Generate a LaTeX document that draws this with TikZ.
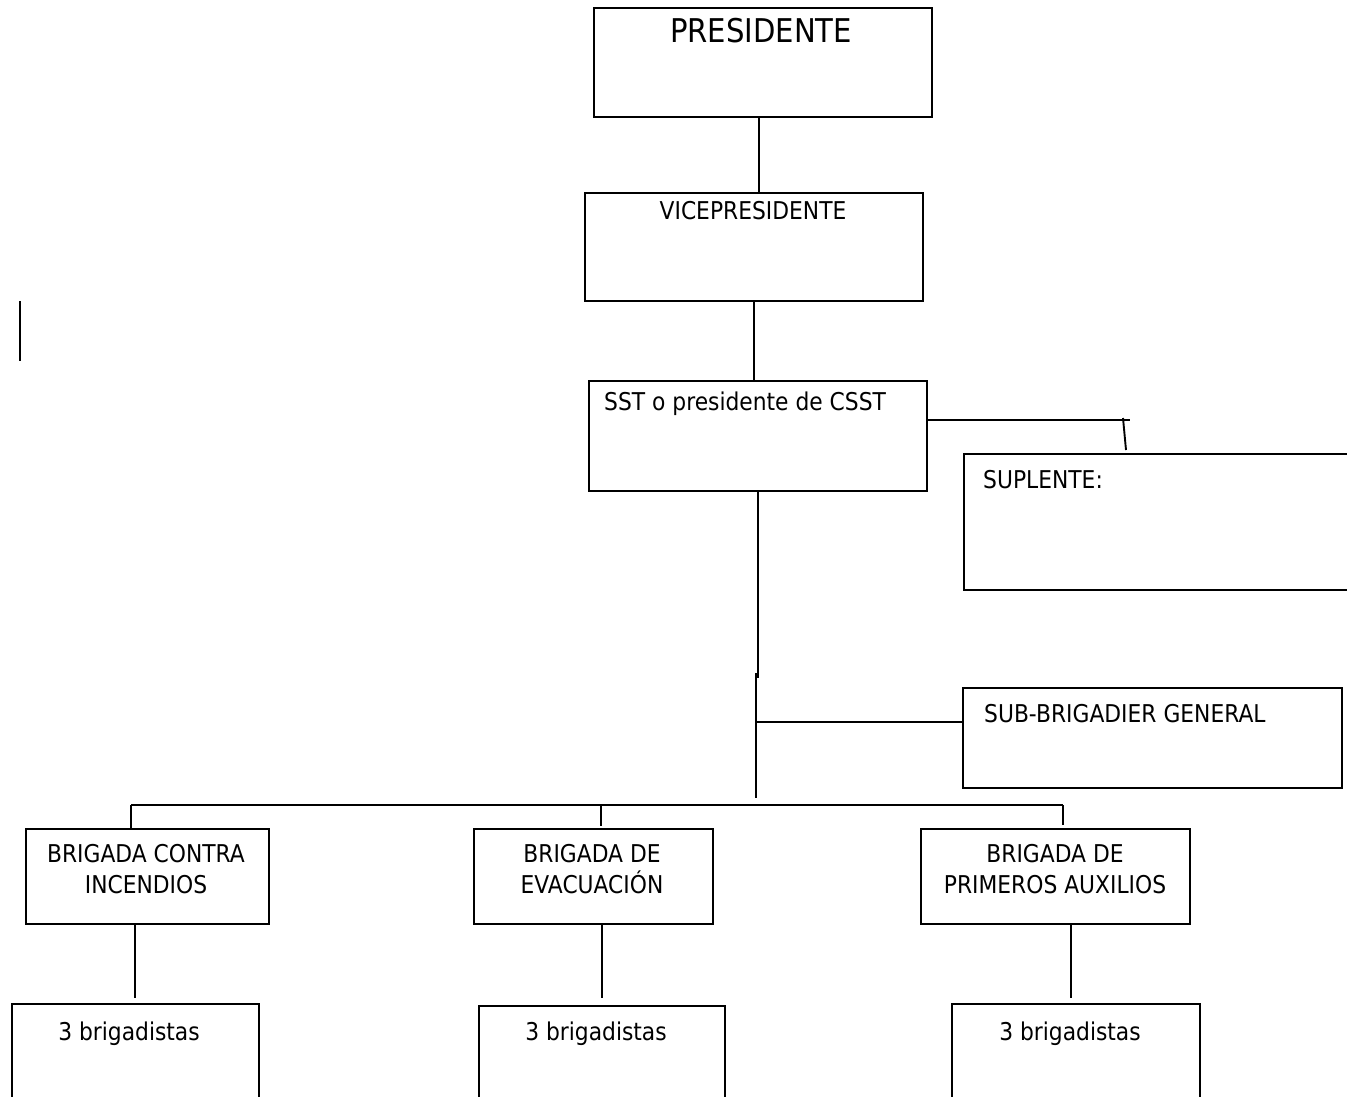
\documentclass[tikz,border=0pt]{standalone}
\usepackage{fontspec}
\setmainfont{DejaVu Sans}[FakeStretch=0.89]
\begin{document}
\begin{tikzpicture}[x=1pt,y=-1pt,
  box/.style={draw, line width=1.9pt, rectangle, inner sep=0pt, anchor=north west},
  conn/.style={line width=1.9pt},
  txt/.style={font=\fontsize{24.5}{31}\selectfont, inner sep=0pt},
  bigtxt/.style={font=\fontsize{32.7}{38}\selectfont, inner sep=0pt}]
\useasboundingbox (0,0) rectangle (1347,1097);
\clip (0,0) rectangle (1347,1097);
% boxes
\node[box, minimum width=338pt, minimum height=109pt] (pres) at (593,7) {};
\node[box, minimum width=338pt, minimum height=108pt] (vp) at (584,192) {};
\node[box, minimum width=338pt, minimum height=110pt] (sst) at (588,380) {};
\node[box, minimum width=420pt, minimum height=136pt] (supl) at (963,453) {};
\node[box, minimum width=379pt, minimum height=100pt] (sub) at (962,687) {};
\node[box, minimum width=243pt, minimum height=95pt] (bci) at (25,828) {};
\node[box, minimum width=239pt, minimum height=95pt] (bev) at (473,828) {};
\node[box, minimum width=269pt, minimum height=95pt] (bpa) at (920,828) {};
\node[box, minimum width=247pt, minimum height=140pt] (b1) at (11,1003) {};
\node[box, minimum width=246pt, minimum height=140pt] (b2) at (478,1005) {};
\node[box, minimum width=248pt, minimum height=140pt] (b3) at (951,1003) {};
% texts
\node[bigtxt, anchor=base] (tpres) at (761,43) {PRESIDENTE};
\node[txt, anchor=base] (tvp) at (753,219) {VICEPRESIDENTE};
\node[txt, anchor=base west] (tsst) at (604,410) {SST o presidente de CSST};
\node[txt, anchor=base west] (tsupl) at (983,488) {SUPLENTE:};
\node[txt, anchor=base west] (tsub) at (984,722) {SUB-BRIGADIER GENERAL};
\node[txt, anchor=base, align=center] (tbci) at (146,893) {BRIGADA CONTRA\\INCENDIOS};
\node[txt, anchor=base, align=center] (tbev) at (592,893) {BRIGADA DE\\EVACUACIÓN};
\node[txt, anchor=base, align=center] (tbpa) at (1055,893) {BRIGADA DE\\PRIMEROS AUXILIOS};
\node[txt, anchor=base] (tb1) at (129,1040) {3 brigadistas};
\node[txt, anchor=base] (tb2) at (596,1040) {3 brigadistas};
\node[txt, anchor=base] (tb3) at (1070,1040) {3 brigadistas};
% helper coordinates
\coordinate (x1) at (759,0);
\coordinate (x2) at (754,0);
\coordinate (y3) at (0,420);
\coordinate (e3) at (1130,420);
\coordinate (t1) at (1123,418);
\coordinate (t2) at (1126,0);
\coordinate (x4) at (758,0);
\coordinate (k1) at (758,678);
\coordinate (k2) at (756,673);
\coordinate (j) at (756,798);
\coordinate (jsub) at (756,722);
\coordinate (busL) at (131,805);
\coordinate (busR) at (1063,805);
\coordinate (d2) at (601,805);
\coordinate (x5) at (135,0);
\coordinate (x6) at (602,0);
\coordinate (x7) at (1071,0);
% connectors
\draw[conn] (pres.south -| x1) -- (vp.north -| x1);
\draw[conn] (vp.south -| x2) -- (sst.north -| x2);
\draw[conn] (sst.east |- y3) -- (e3);
\draw[conn] (t1) -- ([yshift=3pt]supl.north -| t2);
\draw[conn] (sst.south -| x4) -- (k1);
\draw[conn] (k2) -- (j);
\draw[conn] (jsub) -- (sub.west |- jsub);
\draw[conn] (busL) -- (busR);
\draw[conn] (busL) -- (bci.north -| busL);
\draw[conn] (d2) -- ([yshift=2pt]bev.north -| d2);
\draw[conn] (busR) -- ([yshift=3pt]bpa.north -| busR);
\draw[conn] (bci.south -| x5) -- ([yshift=5pt]b1.north -| x5);
\draw[conn] (bev.south -| x6) -- ([yshift=7pt]b2.north -| x6);
\draw[conn] (bpa.south -| x7) -- ([yshift=5pt]b3.north -| x7);
% stray mark at left
\coordinate (m1) at (20,301);
\coordinate (m2) at (20,361);
\draw[conn] (m1) -- (m2);
\end{tikzpicture}
\end{document}
